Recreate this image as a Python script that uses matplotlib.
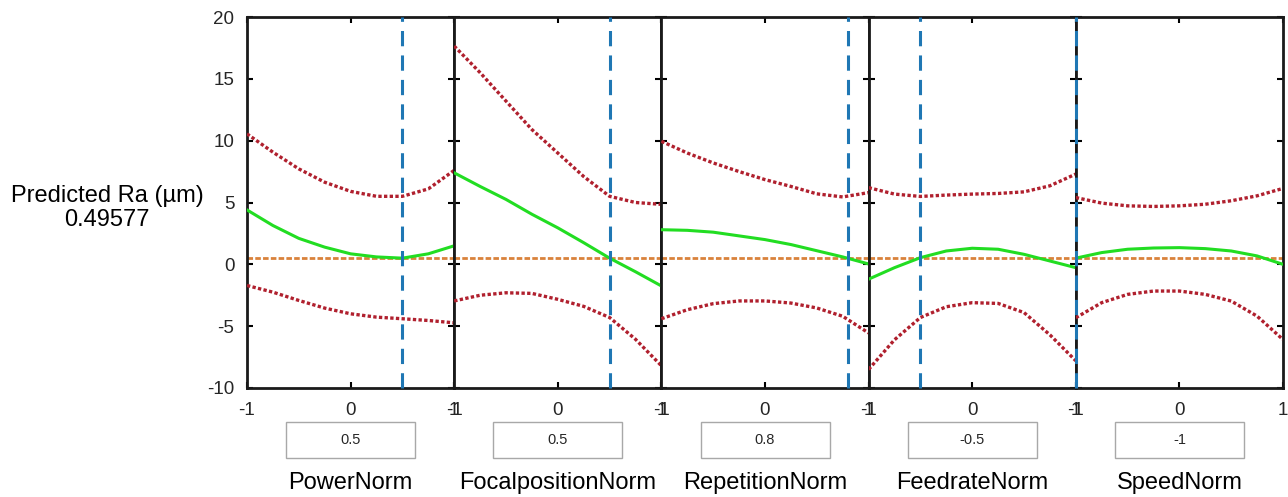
import matplotlib
matplotlib.use("Agg")
import matplotlib.pyplot as plt
from matplotlib.patches import Rectangle

plt.rcParams['font.family'] = ['Liberation Sans', 'DejaVu Sans']
plt.rcParams['axes.unicode_minus'] = False

# valores (x = -1 ... 1 cada 0.25)
x_pts = [-1, -0.75, -0.5, -0.25, 0, 0.25, 0.5, 0.75, 1]

nombres = ["PowerNorm", "FocalpositionNorm", "RepetitionNorm", "FeedrateNorm", "SpeedNorm"]
valorActual = [0.5, 0.5, 0.8, -0.5, -1]
textoCaja = ["0.5", "0.5", "0.8", "-0.5", "-1"]
prediccion = 0.49577

prediccionCurvas = [
    [4.4, 3.14, 2.1, 1.39, 0.85, 0.6, 0.5, 0.85, 1.5],
    [7.4, 6.3, 5.25, 4.05, 2.95, 1.75, 0.5, -0.6, -1.75],
    [2.8, 2.75, 2.6, 2.3, 2.0, 1.6, 1.1, 0.6, 0.03],
    [-1.2, -0.27, 0.54, 1.08, 1.3, 1.22, 0.81, 0.27, -0.27],
    [0.5, 0.95, 1.22, 1.32, 1.35, 1.27, 1.08, 0.68, 0.0],
]
limiteSuperior = [
    [10.55, 9.07, 7.72, 6.64, 5.9, 5.5, 5.5, 6.1, 7.6],
    [17.65, 15.5, 13.2, 10.9, 9.0, 7.1, 5.5, 5.0, 4.85],
    [9.95, 9.0, 8.2, 7.5, 6.85, 6.3, 5.7, 5.45, 5.8],
    [6.2, 5.68, 5.49, 5.6, 5.68, 5.73, 5.86, 6.35, 7.3],
    [5.4, 4.95, 4.73, 4.68, 4.73, 4.86, 5.14, 5.54, 6.14],
]
limiteInferior = [
    [-1.71, -2.25, -2.92, -3.54, -4.0, -4.27, -4.4, -4.54, -4.73],
    [-2.96, -2.5, -2.3, -2.35, -2.83, -3.4, -4.3, -6.06, -8.2],
    [-4.4, -3.67, -3.18, -2.96, -2.96, -3.13, -3.53, -4.2, -5.55],
    [-8.5, -6.1, -4.3, -3.43, -3.1, -3.16, -3.9, -5.7, -7.8],
    [-4.32, -3.1, -2.43, -2.16, -2.16, -2.43, -2.97, -4.19, -6.08],
]

W, H = 1288, 497
fig = plt.figure(figsize=(W / 100, H / 100), dpi=100)

izq = 247 / W
ancho = 207.2 / W
abajo = 1 - 388 / H
alto = (388 - 17) / H

for i in range(5):
    ax = fig.add_axes([izq + i * ancho, abajo, ancho, alto])
    ax.plot(x_pts, limiteSuperior[i], color='#B0202E', lw=2.4, linestyle=(0, (1, 0.7)), zorder=3)
    ax.plot(x_pts, limiteInferior[i], color='#B0202E', lw=2.4, linestyle=(0, (1, 0.7)), zorder=3)
    ax.plot(x_pts, prediccionCurvas[i], color='#22DD22', lw=2.2, zorder=4)
    ax.axhline(prediccion, color='#D9823B', lw=2, linestyle=(0, (2, 0.8)), zorder=2)
    ax.axvline(valorActual[i], color='#1F77B4', lw=2.2, linestyle=(0, (5, 3)), zorder=5, clip_on=False)

    ax.set_xlim(-1, 1)
    ax.set_ylim(-10, 20)
    ax.set_xticks([-1, 0, 1])
    ax.set_xticklabels(['-1', '0', '1'])
    ax.set_yticks([-10, -5, 0, 5, 10, 15, 20])
    ax.tick_params(direction='in', length=4, width=1.5, top=True, right=True,
                   labelsize=13.5, labelcolor='#262626', pad=10)
    ax.tick_params(axis='y', pad=9)
    if i > 0:
        ax.set_yticklabels([])
    for s in ax.spines.values():
        s.set_linewidth(2)
        s.set_color('#1a1a1a')

    # caja con el valor actual y nombre de la variable
    cx = izq + (i + 0.5) * ancho
    bw = 129 / W
    bh = 36 / H
    fig.add_artist(Rectangle((cx - bw / 2, 1 - 458 / H), bw, bh, transform=fig.transFigure,
                             facecolor='white', edgecolor='#A8A8A8', lw=1))
    fig.text(cx, 1 - 440 / H, textoCaja[i], ha='center', va='center', fontsize=10.5, color='#262626')
    fig.text(cx, 1 - 483 / H, nombres[i], ha='center', va='center', fontsize=17, color='black')

fig.text(107 / W, 1 - 208 / H, "Predicted Ra (\u00b5m)\n0.49577", ha='center', va='center',
         fontsize=17, color='black', linespacing=1.1)

fig.savefig("out.png", dpi=100)
